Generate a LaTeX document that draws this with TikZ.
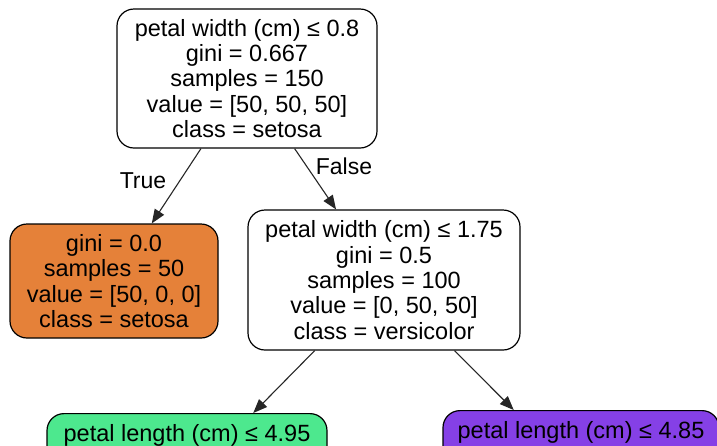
\documentclass[tikz,border=0pt]{standalone}
\usepackage{fontspec}
\setmainfont{Liberation Sans}
\usetikzlibrary{arrows.meta}
\definecolor{leaforange}{HTML}{E58139}
\definecolor{nodegreen}{HTML}{4DE88E}
\definecolor{nodepurple}{HTML}{8540E6}
\begin{document}
\begin{tikzpicture}[x=1pt,y=-1pt,
  treenode/.style={draw=black, line width=1.2pt, rounded corners=17pt, align=center,
    font=\fontsize{23.5}{25.3}\selectfont, inner sep=0pt},
  edgearrow/.style={draw=black!85, line width=1.1pt, -{Triangle[length=14pt,width=11pt]}},
  edgelabel/.style={font=\fontsize{23}{25}\selectfont}]
\useasboundingbox (0,0) rectangle (717,445);
\clip (0,0) rectangle (717,445);
\fill[white] (0,0) rectangle (717,445);
\node[treenode, fill=white, minimum width=260pt, minimum height=139pt] (root) at (247,78.5)
  {petal width (cm) ≤ 0.8\\gini = 0.667\\samples = 150\\value = [50, 50, 50]\\class = setosa};
\node[treenode, fill=leaforange, minimum width=208pt, minimum height=114pt] (left) at (114,281)
  {gini = 0.0\\samples = 50\\value = [50, 0, 0]\\class = setosa};
\node[treenode, fill=white, minimum width=272pt, minimum height=140pt] (mid) at (384,280)
  {petal width (cm) ≤ 1.75\\gini = 0.5\\samples = 100\\value = [0, 50, 50]\\class = versicolor};
\node[treenode, fill=nodegreen, minimum width=280pt, anchor=north, inner ysep=6pt,
  text height=22pt, text depth=100pt] (green) at (187,413) {petal length (cm) ≤ 4.95};
\node[treenode, fill=nodepurple, minimum width=276pt, anchor=north, inner ysep=6pt,
  text height=22pt, text depth=100pt] (purple) at (581,410) {petal length (cm) ≤ 4.85};
\draw[edgearrow] (root) -- (left);
\draw[edgearrow] (root) -- (mid);
\draw[edgearrow] (mid) -- (green);
\draw[edgearrow] (mid) -- (purple);
\node[edgelabel] (truelbl) at (143,181) {True};
\node[edgelabel] (falselbl) at (344,166) {False};
\end{tikzpicture}
\end{document}
